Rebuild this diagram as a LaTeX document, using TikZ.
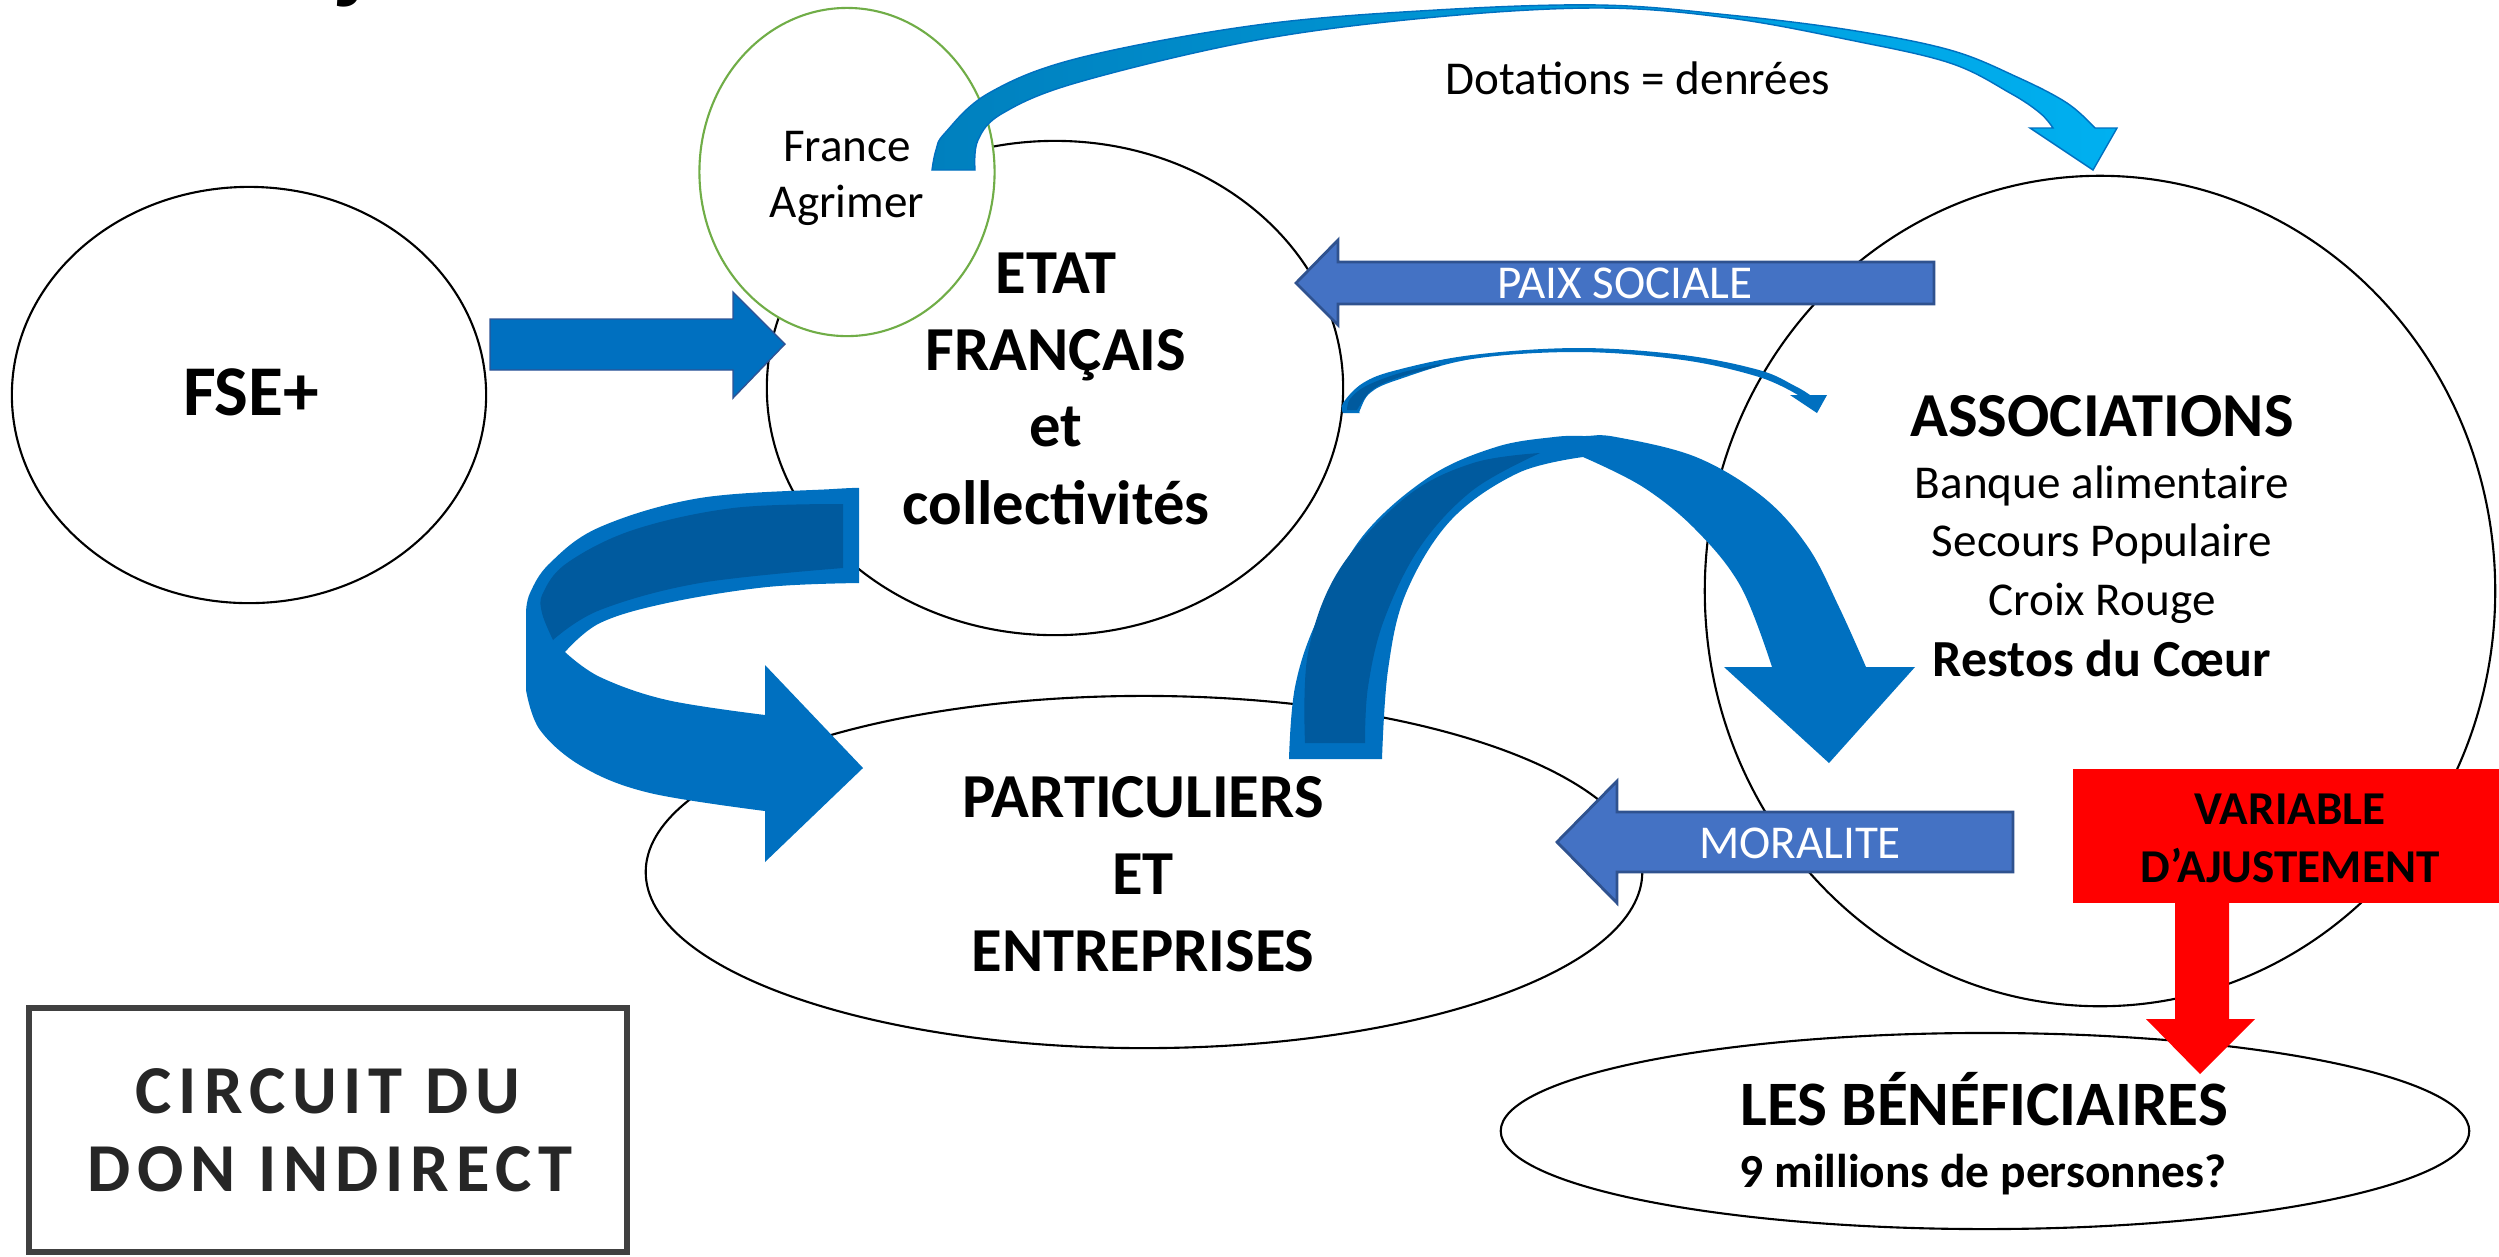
\documentclass[tikz,border=0pt]{standalone}
\usepackage{fontspec}
\setmainfont{Carlito}
\newfontfamily\spacedfont[LetterSpace=10]{Carlito}
\usetikzlibrary{shapes.geometric}
\definecolor{blueA}{RGB}{0,112,192}
\definecolor{blueDark}{RGB}{0,90,158}
\definecolor{blueEdge}{RGB}{46,84,150}
\definecolor{blueBox}{RGB}{68,114,196}
\definecolor{blueBoxEdge}{RGB}{47,82,143}
\definecolor{greenE}{RGB}{112,173,71}
\definecolor{grayBox}{RGB}{64,64,64}
\definecolor{grayText}{RGB}{38,38,38}
\definecolor{dotL}{RGB}{0,128,190}
\definecolor{dotM}{RGB}{0,150,216}
\definecolor{dotR}{RGB}{0,176,240}
\definecolor{redA}{RGB}{255,0,0}
\begin{document}
\begin{tikzpicture}[x=0.01cm,y=-0.01cm,
  ell/.style={ellipse, draw=black, line width=0.6pt, fill=white, inner sep=0pt},
  txt/.style={anchor=base, inner sep=0pt, text=black},
  regfont/.style={font=\fontsize{13.4}{16}\selectfont},
  bigfont/.style={font=\bfseries\fontsize{17.8}{21}\selectfont},
  midbold/.style={font=\bfseries\fontsize{13.4}{16}\selectfont},
  spacedtitle/.style={font=\spacedfont\bfseries\fontsize{19.5}{23}\selectfont, text=grayText},
  smooth6/.style={smooth, tension=0.6}]
\useasboundingbox (0,0) rectangle (2499,1256);

% partial title glyph at the top edge
\node[txt, font=\bfseries\fontsize{28}{30}\selectfont] (ttl) at (353,-10) {j};

% ellipses
\node[ell, minimum width=4.74cm, minimum height=4.16cm] (fse) at (249,395) {};
\node[ell, minimum width=5.76cm, minimum height=4.94cm] (etat) at (1055,388) {};
\node[ell, draw=greenE, minimum width=2.95cm, minimum height=3.28cm] (agri) at (847,172) {};
\node[ell, minimum width=7.90cm, minimum height=8.30cm] (assoc) at (2100,591) {};
\node[ell, minimum width=9.96cm, minimum height=3.52cm] (part) at (1144,872) {};
\node[ell, minimum width=9.68cm, minimum height=1.96cm] (benef) at (1985,1131) {};

% Dotations curved arrow
\shadedraw[left color=dotL, middle color=dotM, right color=dotR, draw=blueA, line width=0.4pt]
  plot[smooth6] coordinates {(932,170) (936,150) (945,133) (989,93) (1079,58) (1257,25) (1436,10) (1600,5) (1729,15) (1850,30) (1950,50) (2017,77) (2067,103) (2095,128)}
  -- (2117,128) -- (2093,170) -- (2030,128) --
  plot[smooth6] coordinates {(2053,128) (2040,113) (2010,93) (1950,63) (1850,40) (1729,18) (1600,8) (1436,17) (1257,40) (1079,82) (1003,113) (978,140) (975,170)}
  -- cycle;

% FSE -> ETAT block arrow
\filldraw[fill=blueA, draw=blueEdge, line width=0.4pt]
  (490,319) -- (733,319) -- (733,292) -- (785,344) -- (733,398) -- (733,370) -- (490,370) -- cycle;

% PAIX SOCIALE arrow
\filldraw[fill=blueBox, draw=blueBoxEdge, line width=0.8pt]
  (1934,262) -- (1338,262) -- (1338,240) -- (1296,283) -- (1338,325) -- (1338,304) -- (1934,304) -- cycle;

% small curved arrow ETAT -> ASSOCIATIONS
\fill[blueA]
  plot[smooth6] coordinates {(1343,413) (1343,403) (1363,383) (1397,370) (1472,355) (1579,348) (1683,355) (1759,370) (1795,386) (1810,395)}
  -- (1827,395) -- (1817,413) -- (1790,395) --
  plot[smooth6] coordinates {(1798,395) (1759,377) (1683,360) (1579,352) (1472,359) (1397,380) (1370,393) (1360,410) (1360,413)}
  -- cycle;
\fill[blueDark]
  plot[smooth6] coordinates {(1347,410) (1350,399) (1366,386) (1400,373) (1440,364)}
  -- plot[smooth6] coordinates {(1440,366) (1400,377) (1372,390) (1357,410)} -- cycle;

% U-turn arrow ETAT -> PARTICULIERS
\fill[blueA]
  plot[smooth6] coordinates {(859,488) (833,489) (700,498) (600,527) (550,563) (530,593) (526,613)}
  -- (526,690) --
  plot[smooth6] coordinates {(526,690) (540,730) (583,767) (650,793) (765,811)}
  -- (765,862) -- (863,768) -- (765,665) --
  plot[smooth6] coordinates {(765,715) (667,700) (600,677) (565,652)}
  -- plot[smooth6] coordinates {(565,652) (600,623) (667,603) (767,587) (859,583)}
  -- cycle;
\fill[blueDark]
  plot[smooth6] coordinates {(843,504) (733,508) (633,530) (567,563) (543,593) (542,613) (553,640)}
  -- plot[smooth6] coordinates {(553,640) (600,610) (700,583) (843,568)} -- cycle;

% arch arrow PARTICULIERS -> ASSOCIATIONS
\fill[blueA]
  plot[smooth6] coordinates {(1289,759) (1295,687) (1317,620) (1362,537) (1429,477) (1496,447) (1554,437) (1585,436) (1616,437) (1696,457) (1763,497) (1808,547) (1839,607) (1866,667)}
  -- (1915,667) -- (1829,763) -- (1724,667) --
  plot[smooth6] coordinates {(1772,667) (1741,587) (1696,530) (1643,487) (1583,457)}
  -- plot[smooth6] coordinates {(1583,457) (1518,473) (1451,520) (1406,593) (1388,670) (1382,759)}
  -- cycle;
\fill[blueDark]
  plot[smooth6] coordinates {(1305,743) (1308,653) (1339,570) (1406,497) (1473,463) (1540,453)}
  -- plot[smooth6] coordinates {(1540,453) (1473,490) (1420,547) (1384,620) (1368,687) (1365,743)} -- cycle;

% MORALITE arrow
\filldraw[fill=blueBox, draw=blueBoxEdge, line width=0.8pt]
  (2013,812) -- (1617,812) -- (1617,781) -- (1557,842) -- (1617,903) -- (1617,872) -- (2013,872) -- cycle;

% red box and arrow
\fill[redA] (2073,769) rectangle (2499,903);
\fill[redA] (2175,900) -- (2229,900) -- (2229,1019) -- (2255,1019) -- (2200,1074) -- (2146,1019) -- (2175,1019) -- cycle;

% texts
\node[txt, font=\bfseries\fontsize{20.3}{24}\selectfont] (tfse) at (251,415) {FSE+};
\node[txt, regfont] (tfr1) at (847,161) {France};
\node[txt, regfont] (tfr2) at (847,217) {Agrimer};
\node[txt, bigfont] (te1) at (1056,293) {ETAT};
\node[txt, bigfont] (te2) at (1056,370) {FRANÇAIS};
\node[txt, bigfont] (te3) at (1056,446) {et};
\node[txt, bigfont] (te4) at (1056,524) {collectivités};
\node[txt, regfont] (tdot) at (1638,94) {Dotations = denrées};
\node[txt, regfont, text=white] (tpaix) at (1625,298) {PAIX SOCIALE};
\node[txt, bigfont] (ta1) at (2102,436) {ASSOCIATIONS};
\node[txt, regfont] (ta2) at (2102,498) {Banque alimentaire};
\node[txt, regfont] (ta3) at (2102,556) {Secours Populaire};
\node[txt, regfont] (ta4) at (2102,615) {Croix Rouge};
\node[txt, font=\bfseries\fontsize{14.8}{18}\selectfont] (ta5) at (2102,676) {Restos du Cœur};
\node[txt, bigfont] (tp1) at (1143,817) {PARTICULIERS};
\node[txt, bigfont] (tp2) at (1143,894) {ET};
\node[txt, bigfont] (tp3) at (1143,971) {ENTREPRISES};
\node[txt, regfont, text=white] (tmor) at (1800,858) {MORALITE};
\node[txt, midbold] (tv1) at (2290,824) {VARIABLE};
\node[txt, midbold] (tv2) at (2290,882) {D’AJUSTEMENT};
\node[txt, font=\bfseries\fontsize{18}{21}\selectfont] (tb1) at (1984,1125) {LES BÉNÉFICIAIRES};
\node[txt, font=\bfseries\fontsize{13.5}{16}\selectfont] (tb2) at (1983,1187) {9 millions de personnes?};

% title box
\node[draw=grayBox, line width=1.7pt, fill=white, inner sep=0pt,
      minimum width=5.98cm, minimum height=2.44cm] (circ) at (328,1130) {};
\node[txt, spacedtitle] (tc1) at (328,1113) {CIRCUIT DU};
\node[txt, spacedtitle] (tc2) at (330,1191) {DON INDIRECT};
\end{tikzpicture}
\end{document}
